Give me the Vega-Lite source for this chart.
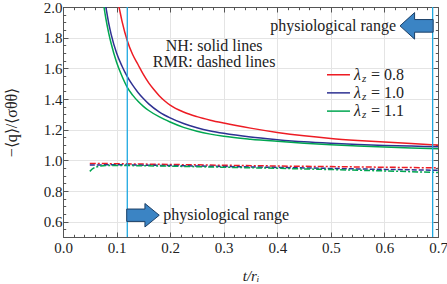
{
  "$schema": "https://vega.github.io/schema/vega-lite/v6.json",
  "width": 375,
  "height": 230,
  "autosize": {"type": "none"},
  "padding": {"left": 63, "top": 7, "right": 9, "bottom": 47},
  "background": "white",
  "config": {
    "font": "Liberation Serif",
    "view": {"stroke": null},
    "axis": {
      "domainColor": "#555555",
      "tickColor": "#555555",
      "gridColor": "#e4e4e4",
      "labelFont": "Liberation Serif",
      "labelFontSize": 15,
      "labelColor": "#222222",
      "titleFont": "Liberation Serif",
      "titleColor": "#222222",
      "titleFontWeight": "normal",
      "labelFlush": false,
      "labelOverlap": false
    }
  },
  "datasets": {
    "nh": [
      {"t": 0.100, "v": 2.06, "lam": "0.8"},
      {"t": 0.1045, "v": 2.0, "lam": "0.8"},
      {"t": 0.11, "v": 1.91, "lam": "0.8"},
      {"t": 0.12, "v": 1.78, "lam": "0.8"},
      {"t": 0.13, "v": 1.69, "lam": "0.8"},
      {"t": 0.14, "v": 1.625, "lam": "0.8"},
      {"t": 0.15, "v": 1.56, "lam": "0.8"},
      {"t": 0.16, "v": 1.505, "lam": "0.8"},
      {"t": 0.17, "v": 1.46, "lam": "0.8"},
      {"t": 0.18, "v": 1.42, "lam": "0.8"},
      {"t": 0.19, "v": 1.387, "lam": "0.8"},
      {"t": 0.20, "v": 1.36, "lam": "0.8"},
      {"t": 0.225, "v": 1.315, "lam": "0.8"},
      {"t": 0.25, "v": 1.285, "lam": "0.8"},
      {"t": 0.275, "v": 1.262, "lam": "0.8"},
      {"t": 0.30, "v": 1.243, "lam": "0.8"},
      {"t": 0.35, "v": 1.21, "lam": "0.8"},
      {"t": 0.40, "v": 1.182, "lam": "0.8"},
      {"t": 0.45, "v": 1.16, "lam": "0.8"},
      {"t": 0.50, "v": 1.143, "lam": "0.8"},
      {"t": 0.55, "v": 1.13, "lam": "0.8"},
      {"t": 0.60, "v": 1.119, "lam": "0.8"},
      {"t": 0.65, "v": 1.109, "lam": "0.8"},
      {"t": 0.70, "v": 1.10, "lam": "0.8"},
      {"t": 0.077, "v": 2.06, "lam": "1.0"},
      {"t": 0.080, "v": 2.0, "lam": "1.0"},
      {"t": 0.085, "v": 1.90, "lam": "1.0"},
      {"t": 0.09, "v": 1.82, "lam": "1.0"},
      {"t": 0.10, "v": 1.70, "lam": "1.0"},
      {"t": 0.11, "v": 1.615, "lam": "1.0"},
      {"t": 0.12, "v": 1.546, "lam": "1.0"},
      {"t": 0.13, "v": 1.49, "lam": "1.0"},
      {"t": 0.14, "v": 1.443, "lam": "1.0"},
      {"t": 0.15, "v": 1.403, "lam": "1.0"},
      {"t": 0.16, "v": 1.368, "lam": "1.0"},
      {"t": 0.18, "v": 1.315, "lam": "1.0"},
      {"t": 0.20, "v": 1.277, "lam": "1.0"},
      {"t": 0.225, "v": 1.24, "lam": "1.0"},
      {"t": 0.25, "v": 1.213, "lam": "1.0"},
      {"t": 0.275, "v": 1.192, "lam": "1.0"},
      {"t": 0.30, "v": 1.176, "lam": "1.0"},
      {"t": 0.35, "v": 1.152, "lam": "1.0"},
      {"t": 0.40, "v": 1.135, "lam": "1.0"},
      {"t": 0.45, "v": 1.121, "lam": "1.0"},
      {"t": 0.50, "v": 1.111, "lam": "1.0"},
      {"t": 0.55, "v": 1.103, "lam": "1.0"},
      {"t": 0.60, "v": 1.097, "lam": "1.0"},
      {"t": 0.65, "v": 1.093, "lam": "1.0"},
      {"t": 0.70, "v": 1.089, "lam": "1.0"},
      {"t": 0.074, "v": 2.06, "lam": "1.1"},
      {"t": 0.0765, "v": 2.0, "lam": "1.1"},
      {"t": 0.08, "v": 1.925, "lam": "1.1"},
      {"t": 0.085, "v": 1.835, "lam": "1.1"},
      {"t": 0.09, "v": 1.76, "lam": "1.1"},
      {"t": 0.10, "v": 1.64, "lam": "1.1"},
      {"t": 0.11, "v": 1.55, "lam": "1.1"},
      {"t": 0.12, "v": 1.476, "lam": "1.1"},
      {"t": 0.13, "v": 1.425, "lam": "1.1"},
      {"t": 0.14, "v": 1.385, "lam": "1.1"},
      {"t": 0.15, "v": 1.352, "lam": "1.1"},
      {"t": 0.16, "v": 1.325, "lam": "1.1"},
      {"t": 0.18, "v": 1.283, "lam": "1.1"},
      {"t": 0.20, "v": 1.25, "lam": "1.1"},
      {"t": 0.225, "v": 1.215, "lam": "1.1"},
      {"t": 0.25, "v": 1.19, "lam": "1.1"},
      {"t": 0.275, "v": 1.171, "lam": "1.1"},
      {"t": 0.30, "v": 1.157, "lam": "1.1"},
      {"t": 0.35, "v": 1.138, "lam": "1.1"},
      {"t": 0.40, "v": 1.124, "lam": "1.1"},
      {"t": 0.45, "v": 1.112, "lam": "1.1"},
      {"t": 0.50, "v": 1.102, "lam": "1.1"},
      {"t": 0.55, "v": 1.094, "lam": "1.1"},
      {"t": 0.60, "v": 1.087, "lam": "1.1"},
      {"t": 0.65, "v": 1.081, "lam": "1.1"},
      {"t": 0.70, "v": 1.076, "lam": "1.1"}
    ],
    "rmr": [
      {"t": 0.05, "v": 0.980, "lam": "0.8"},
      {"t": 0.10, "v": 0.978, "lam": "0.8"},
      {"t": 0.20, "v": 0.973, "lam": "0.8"},
      {"t": 0.30, "v": 0.968, "lam": "0.8"},
      {"t": 0.40, "v": 0.963, "lam": "0.8"},
      {"t": 0.50, "v": 0.959, "lam": "0.8"},
      {"t": 0.60, "v": 0.955, "lam": "0.8"},
      {"t": 0.70, "v": 0.951, "lam": "0.8"},
      {"t": 0.05, "v": 0.970, "lam": "1.0"},
      {"t": 0.06, "v": 0.970, "lam": "1.0"},
      {"t": 0.10, "v": 0.971, "lam": "1.0"},
      {"t": 0.20, "v": 0.966, "lam": "1.0"},
      {"t": 0.30, "v": 0.960, "lam": "1.0"},
      {"t": 0.40, "v": 0.954, "lam": "1.0"},
      {"t": 0.50, "v": 0.947, "lam": "1.0"},
      {"t": 0.60, "v": 0.941, "lam": "1.0"},
      {"t": 0.70, "v": 0.935, "lam": "1.0"},
      {"t": 0.05, "v": 0.928, "lam": "1.1"},
      {"t": 0.055, "v": 0.945, "lam": "1.1"},
      {"t": 0.06, "v": 0.955, "lam": "1.1"},
      {"t": 0.07, "v": 0.963, "lam": "1.1"},
      {"t": 0.08, "v": 0.966, "lam": "1.1"},
      {"t": 0.10, "v": 0.967, "lam": "1.1"},
      {"t": 0.20, "v": 0.962, "lam": "1.1"},
      {"t": 0.30, "v": 0.955, "lam": "1.1"},
      {"t": 0.40, "v": 0.948, "lam": "1.1"},
      {"t": 0.50, "v": 0.940, "lam": "1.1"},
      {"t": 0.60, "v": 0.931, "lam": "1.1"},
      {"t": 0.70, "v": 0.921, "lam": "1.1"}
    ],
    "legend": [
      {"t": 0.4928, "t2": 0.5357, "v": 1.558, "lam": "0.8", "label": "= 0.8"},
      {"t": 0.4928, "t2": 0.5357, "v": 1.44, "lam": "1.0", "label": "= 1.0"},
      {"t": 0.4928, "t2": 0.5357, "v": 1.321, "lam": "1.1", "label": "= 1.1"}
    ]
  },
  "layer": [
    {
      "data": {"name": "nh"},
      "mark": {"type": "line", "clip": true, "strokeWidth": 1.5, "interpolate": "monotone"},
      "encoding": {
        "x": {"field": "t", "type": "quantitative", "scale": {"domain": [0, 0.7], "nice": false, "zero": false},
              "axis": {"orient": "bottom", "values": [0, 0.1, 0.2, 0.3, 0.4, 0.5, 0.6, 0.7], "format": ".1f", "grid": true,
                       "tickSize": -5, "labelPadding": 8, "title": "t/rᵢ", "titleFontStyle": "italic", "titleFontSize": 15, "titlePadding": 13}},
        "y": {"field": "v", "type": "quantitative", "scale": {"domain": [0.5, 2.0], "nice": false, "zero": false},
              "axis": {"orient": "left", "values": [0.6, 0.8, 1.0, 1.2, 1.4, 1.6, 1.8, 2.0], "format": ".1f", "grid": true,
                       "tickSize": -5, "labelPadding": 6, "title": "−⟨q⟩/⟨σθθ⟩", "titleFontSize": 16, "titlePadding": 24}},
        "color": {"field": "lam", "type": "nominal", "scale": {"domain": ["0.8", "1.0", "1.1"], "range": ["#ed1c24", "#2e3192", "#00a651"]}, "legend": null},
        "detail": {"field": "lam"}
      }
    },
    {
      "data": {"name": "rmr"},
      "mark": {"type": "line", "clip": true, "strokeWidth": 1.5},
      "encoding": {
        "x": {"field": "t", "type": "quantitative", "scale": {"domain": [0, 0.7], "nice": false, "zero": false},
              "axis": {"orient": "bottom", "values": [0, 0.02, 0.04, 0.06, 0.08, 0.1, 0.12, 0.14, 0.16, 0.18, 0.2, 0.22, 0.24, 0.26, 0.28, 0.3, 0.32, 0.34, 0.36, 0.38, 0.4, 0.42, 0.44, 0.46, 0.48, 0.5, 0.52, 0.54, 0.56, 0.58, 0.6, 0.62, 0.64, 0.66, 0.68, 0.7],
                       "grid": false, "labels": false, "domain": false, "tickSize": -2.7, "title": null}},
        "y": {"field": "v", "type": "quantitative", "scale": {"domain": [0.5, 2.0], "nice": false, "zero": false},
              "axis": {"orient": "left", "values": [0.5, 0.55, 0.6, 0.65, 0.7, 0.75, 0.8, 0.85, 0.9, 0.95, 1.0, 1.05, 1.1, 1.15, 1.2, 1.25, 1.3, 1.35, 1.4, 1.45, 1.5, 1.55, 1.6, 1.65, 1.7, 1.75, 1.8, 1.85, 1.9, 1.95, 2.0],
                       "grid": false, "labels": false, "domain": false, "tickSize": -2.7, "title": null}},
        "color": {"field": "lam", "type": "nominal", "scale": {"domain": ["0.8", "1.0", "1.1"], "range": ["#ed1c24", "#2e3192", "#00a651"]}, "legend": null},
        "strokeDash": {"field": "lam", "type": "nominal", "scale": {"domain": ["0.8", "1.0", "1.1"], "range": [[6, 2, 2, 2], [5, 2], [6, 2, 2, 2]]}, "legend": null}
      }
    },
    {
      "data": {"values": [{"t": 0.12}, {"t": 0.69}]},
      "mark": {"type": "rule", "color": "#1fa9e1", "strokeWidth": 1.3},
      "encoding": {
        "x": {"field": "t", "type": "quantitative", "scale": {"domain": [0, 0.7], "nice": false, "zero": false},
              "axis": {"orient": "top", "values": [0, 0.1, 0.2, 0.3, 0.4, 0.5, 0.6, 0.7], "grid": false, "labels": false, "tickSize": -5, "title": null}}
      }
    },
    {
      "data": {"values": [{"t": 0.69, "v": 1.0}]},
      "mark": {"type": "rule", "opacity": 0},
      "encoding": {
        "x": {"field": "t", "type": "quantitative", "scale": {"domain": [0, 0.7], "nice": false, "zero": false},
              "axis": {"orient": "top", "values": [0, 0.02, 0.04, 0.06, 0.08, 0.1, 0.12, 0.14, 0.16, 0.18, 0.2, 0.22, 0.24, 0.26, 0.28, 0.3, 0.32, 0.34, 0.36, 0.38, 0.4, 0.42, 0.44, 0.46, 0.48, 0.5, 0.52, 0.54, 0.56, 0.58, 0.6, 0.62, 0.64, 0.66, 0.68, 0.7],
                       "grid": false, "labels": false, "domain": false, "tickSize": -2.7, "title": null}},
        "y": {"field": "v", "type": "quantitative", "scale": {"domain": [0.5, 2.0], "nice": false, "zero": false},
              "axis": {"orient": "right", "values": [0.6, 0.8, 1.0, 1.2, 1.4, 1.6, 1.8, 2.0], "grid": false, "labels": false, "tickSize": -5, "title": null}}
      }
    },
    {
      "data": {"values": [{"t": 0.69, "v": 1.0}]},
      "mark": {"type": "rule", "opacity": 0},
      "encoding": {
        "y": {"field": "v", "type": "quantitative", "scale": {"domain": [0.5, 2.0], "nice": false, "zero": false},
              "axis": {"orient": "right", "values": [0.5, 0.55, 0.6, 0.65, 0.7, 0.75, 0.8, 0.85, 0.9, 0.95, 1.0, 1.05, 1.1, 1.15, 1.2, 1.25, 1.3, 1.35, 1.4, 1.45, 1.5, 1.55, 1.6, 1.65, 1.7, 1.75, 1.8, 1.85, 1.9, 1.95, 2.0],
                       "grid": false, "labels": false, "domain": false, "tickSize": -2.7, "title": null}}
      }
    },
    {
      "data": {"values": [{"t": 0.1493, "v": 0.642}]},
      "mark": {"type": "point", "filled": true, "fill": "#3b84c4", "stroke": "#1c3f66", "strokeWidth": 1, "opacity": 1,
               "shape": "M-1,-0.38 L0.12,-0.38 L0.12,-0.72 L1,0 L0.12,0.72 L0.12,0.38 L-1,0.38 Z", "size": 1060},
      "encoding": {
        "x": {"field": "t", "type": "quantitative", "axis": null},
        "y": {"field": "v", "type": "quantitative", "axis": null}
      }
    },
    {
      "data": {"values": [{"t": 0.660, "v": 1.877}]},
      "mark": {"type": "point", "filled": true, "fill": "#3b84c4", "stroke": "#1c3f66", "strokeWidth": 1, "opacity": 1,
               "shape": "M1,-0.38 L-0.12,-0.38 L-0.12,-0.8 L-1,0 L-0.12,0.8 L-0.12,0.38 L1,0.38 Z", "size": 1100},
      "encoding": {
        "x": {"field": "t", "type": "quantitative", "axis": null},
        "y": {"field": "v", "type": "quantitative", "axis": null}
      }
    },
    {
      "data": {"values": [{"t": 0.1872, "v": 0.642, "label": "physiological range"}]},
      "mark": {"type": "text", "align": "left", "baseline": "middle", "fontSize": 16, "font": "Liberation Serif", "color": "#222222"},
      "encoding": {
        "x": {"field": "t", "type": "quantitative", "axis": null},
        "y": {"field": "v", "type": "quantitative", "axis": null},
        "text": {"field": "label"}
      }
    },
    {
      "data": {"values": [{"t": 0.6216, "v": 1.877, "label": "physiological range"}]},
      "mark": {"type": "text", "align": "right", "baseline": "middle", "fontSize": 16, "font": "Liberation Serif", "color": "#222222"},
      "encoding": {
        "x": {"field": "t", "type": "quantitative", "axis": null},
        "y": {"field": "v", "type": "quantitative", "axis": null},
        "text": {"field": "label"}
      }
    },
    {
      "data": {"values": [{"t": 0.282, "v": 1.746, "label": "NH: solid lines"}, {"t": 0.282, "v": 1.644, "label": "RMR: dashed lines"}]},
      "mark": {"type": "text", "align": "center", "baseline": "middle", "fontSize": 16, "font": "Liberation Serif", "color": "#222222"},
      "encoding": {
        "x": {"field": "t", "type": "quantitative", "axis": null},
        "y": {"field": "v", "type": "quantitative", "axis": null},
        "text": {"field": "label"}
      }
    },
    {
      "data": {"name": "legend"},
      "mark": {"type": "rule", "strokeWidth": 1.5},
      "encoding": {
        "x": {"field": "t", "type": "quantitative", "axis": null},
        "x2": {"field": "t2"},
        "y": {"field": "v", "type": "quantitative", "axis": null},
        "color": {"field": "lam", "type": "nominal", "scale": {"domain": ["0.8", "1.0", "1.1"], "range": ["#ed1c24", "#2e3192", "#00a651"]}, "legend": null}
      }
    },
    {
      "data": {"name": "legend"},
      "mark": {"type": "text", "align": "left", "baseline": "middle", "fontSize": 16, "fontStyle": "italic", "font": "Liberation Serif", "color": "#222222", "dx": 4},
      "encoding": {
        "x": {"field": "t2", "type": "quantitative", "axis": null},
        "y": {"field": "v", "type": "quantitative", "axis": null},
        "text": {"value": "λ"}
      }
    },
    {
      "data": {"name": "legend"},
      "mark": {"type": "text", "align": "left", "baseline": "middle", "fontSize": 11, "fontStyle": "italic", "font": "Liberation Serif", "color": "#222222", "dx": 12, "dy": 4},
      "encoding": {
        "x": {"field": "t2", "type": "quantitative", "axis": null},
        "y": {"field": "v", "type": "quantitative", "axis": null},
        "text": {"value": "z"}
      }
    },
    {
      "data": {"name": "legend"},
      "mark": {"type": "text", "align": "left", "baseline": "middle", "fontSize": 16, "font": "Liberation Serif", "color": "#222222", "dx": 21},
      "encoding": {
        "x": {"field": "t2", "type": "quantitative", "axis": null},
        "y": {"field": "v", "type": "quantitative", "axis": null},
        "text": {"field": "label"}
      }
    }
  ],
  "resolve": {"axis": {"x": "independent", "y": "independent"}}
}
